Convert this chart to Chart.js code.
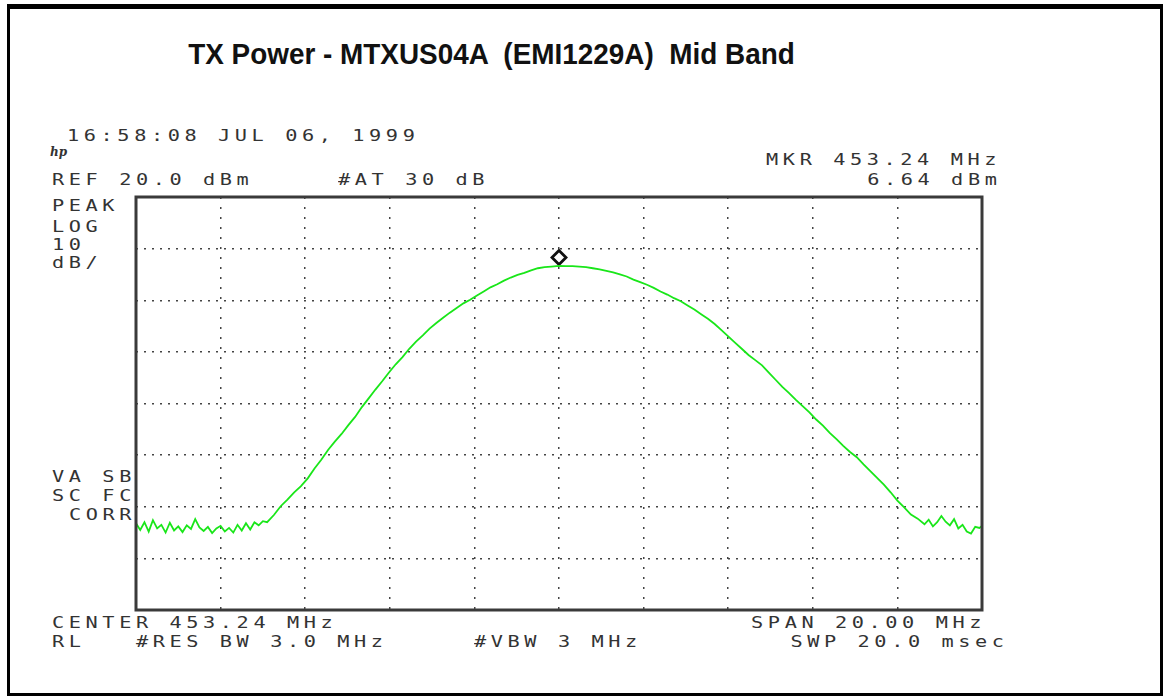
<!DOCTYPE html>
<html>
<head>
<meta charset="utf-8">
<script src="https://cdn.jsdelivr.net/npm/chart.js@4"></script>
<style>
  body { margin: 0; background: #fff; }
  .page { position: relative; width: 1167px; height: 698px; overflow: hidden; background: #fff; }
  .frame { position: absolute; left: 7px; top: 4px; width: 1156px; height: 692px; border-style: solid; border-color: #000; border-width: 5px 3px 3px 3px; box-sizing: border-box; }
  .title { position: absolute; left: 0; width: 983px; top: 37px; text-align: center; font-family: "Liberation Sans", Arial, sans-serif; font-weight: bold; font-size: 30px; color: #111; white-space: pre; transform: scaleX(0.93); transform-origin: 491px 0; }
  .t { position: absolute; font-family: "DejaVu Sans Mono", monospace; font-size: 15px; line-height: 15px; letter-spacing: 3.4px; color: #333; white-space: pre; transform: scaleX(1.35); transform-origin: 0 0; }
  .r { text-align: right; transform-origin: 100% 0; }
  .hp { position: absolute; left: 50px; top: 145px; font-family: "DejaVu Serif", serif; font-style: italic; font-weight: bold; font-size: 12px; color: #333; }
  #wrap { position: absolute; left: 126px; top: 187px; width: 866px; height: 433px; }
</style>
</head>
<body>
<div class="page">
  <div class="frame"></div>
  <div class="title">TX Power - MTXUS04A  (EMI1229A)  Mid Band</div>

  <div class="t" style="left:67px;top:129px">16:58:08 JUL 06, 1999</div>
  <div class="hp">hp</div>
  <div class="t" style="left:52px;top:173px">REF 20.0 dBm</div>
  <div class="t" style="left:338px;top:173px">#AT 30 dB</div>
  <div class="t r" style="right:166px;top:153px">MKR 453.24 MHz</div>
  <div class="t r" style="right:166px;top:173px">6.64 dBm</div>

  <div class="t" style="left:52px;top:199px">PEAK</div>
  <div class="t" style="left:52px;top:220px">LOG</div>
  <div class="t" style="left:52px;top:238px">10</div>
  <div class="t" style="left:52px;top:256px">dB/</div>

  <div class="t" style="left:52px;top:470px">VA SB</div>
  <div class="t" style="left:52px;top:489px">SC FC</div>
  <div class="t" style="left:69px;top:508px">CORR</div>

  <div class="t" style="left:52px;top:616px">CENTER 453.24 MHz</div>
  <div class="t r" style="right:181px;top:616px">SPAN 20.00 MHz</div>
  <div class="t" style="left:52px;top:635px">RL   #RES BW 3.0 MHz</div>
  <div class="t" style="left:474px;top:635px">#VBW 3 MHz</div>
  <div class="t r" style="right:158px;top:635px">SWP 20.0 msec</div>

  <div id="wrap"><canvas id="trace"></canvas></div>
</div>

<script>
// sweep: center 453.24 MHz, span 20 MHz, ref 20 dBm, 10 dB/div
var centerMHz = 453.24;
var spanMHz = 20;
var refLevel = 20;
var dbPerDiv = 10;

var freqMHz = [
  443.24, 443.34, 443.44, 443.54, 443.64, 443.74, 443.84, 443.94, 444.04, 444.14,
  444.24, 444.34, 444.44, 444.54, 444.64, 444.74, 444.84, 444.94, 445.04, 445.14,
  445.24, 445.34, 445.44, 445.54, 445.64, 445.74, 445.84, 445.94, 446.04, 446.14,
  446.24, 446.34, 446.50, 446.66, 446.82, 446.98, 447.14, 447.30, 447.46, 447.62,
  447.78, 447.94, 448.10, 448.26, 448.42, 448.58, 448.74, 448.90, 449.06, 449.22,
  449.38, 449.54, 449.70, 449.86, 450.02, 450.18, 450.34, 450.50, 450.66, 450.82,
  450.98, 451.14, 451.30, 451.46, 451.62, 451.78, 451.94, 452.10, 452.26, 452.42,
  452.58, 452.74, 452.90, 453.06, 453.24, 453.40, 453.56, 453.72, 453.88, 454.04,
  454.20, 454.36, 454.52, 454.68, 454.84, 455.00, 455.16, 455.32, 455.48, 455.64,
  455.80, 455.96, 456.12, 456.28, 456.44, 456.60, 456.76, 456.92, 457.08, 457.24,
  457.40, 457.56, 457.72, 457.88, 458.04, 458.20, 458.36, 458.52, 458.68, 458.84,
  459.00, 459.16, 459.32, 459.48, 459.64, 459.80, 459.96, 460.12, 460.28, 460.44,
  460.60, 460.76, 460.92, 461.08, 461.24, 461.40, 461.56, 461.72, 461.88, 461.98,
  462.08, 462.18, 462.28, 462.38, 462.48, 462.58, 462.68, 462.78, 462.88, 462.98,
  463.08, 463.18, 463.24
];

var powerDbm = [
  -43.2, -44.5, -43.0, -44.8, -42.6, -44.2, -43.5, -45.0, -43.1, -44.6,
  -43.8, -44.9, -43.6, -44.3, -42.4, -44.0, -44.7, -43.9, -45.1, -44.2,
  -43.7, -44.8, -44.1, -45.0, -43.5, -44.6, -43.2, -44.4, -43.0, -43.6,
  -42.8, -43.0, -41.6, -39.9, -38.6, -37.2, -36.0, -34.5, -32.6, -30.9,
  -29.0, -27.4, -25.9, -24.2, -22.6, -20.7, -19.0, -17.3, -15.7, -14.0,
  -12.4, -11.0, -9.4, -8.0, -6.8, -5.5, -4.4, -3.4, -2.4, -1.5,
  -0.6, 0.1, 0.9, 1.7, 2.5, 3.1, 3.8, 4.4, 4.9, 5.3,
  5.8, 6.2, 6.4, 6.5, 6.64, 6.6, 6.6, 6.5, 6.4, 6.2,
  6.0, 5.7, 5.4, 5.0, 4.6, 4.0, 3.5, 3.0, 2.4, 1.7,
  1.1, 0.4, -0.2, -1.0, -1.8, -2.7, -3.6, -4.6, -5.8, -7.0,
  -8.2, -9.4, -10.6, -11.6, -12.6, -14.0, -15.4, -16.8, -18.0, -19.3,
  -20.5, -21.7, -23.1, -24.3, -25.7, -26.9, -28.2, -29.4, -30.4, -31.8,
  -33.1, -34.4, -35.7, -37.2, -38.8, -40.1, -41.5, -42.3, -43.4, -42.5,
  -43.8, -43.0, -41.8, -42.9, -43.6, -42.4, -44.2, -43.5, -44.8, -45.2,
  -43.9, -44.1, -43.7
];

// marker diamond drawn just above the peak
var markerMHz = [453.24];
var markerDbm = [8.3];

function toPoints(xs, ys){
    var pts = [];
    for(var i=0;i<xs.length;i++){
        pts.push({x: xs[i], y: ys[i]});
    }
    return pts;
}

var plotBox = {
    id: 'plotBox',
    afterDraw: function(chart){
        var a = chart.chartArea;
        var ctx = chart.ctx;
        ctx.save();
        ctx.strokeStyle = '#3a3a3a';
        ctx.lineWidth = 3;
        ctx.strokeRect(a.left, a.top, a.right - a.left, a.bottom - a.top);
        ctx.restore();
    }
};

var fMin = centerMHz - spanMHz/2;
var fMax = centerMHz + spanMHz/2;

new Chart(document.querySelector('#trace'), {
    type: 'line',
    data: {
        datasets: [
            {
                data: toPoints(freqMHz, powerDbm),
                borderColor: '#19e619',
                borderWidth: 1.8,
                pointRadius: 0,
                tension: 0,
                fill: false
            },
            {
                type: 'scatter',
                data: toPoints(markerMHz, markerDbm),
                pointStyle: 'rectRot',
                pointRadius: 7,
                borderColor: '#111',
                borderWidth: 2.8,
                backgroundColor: '#fff'
            }
        ]
    },
    options: {
        responsive: true,
        maintainAspectRatio: false,
        animation: false,
        layout: { padding: 10 },
        plugins: { legend: { display: false }, tooltip: { enabled: false } },
        scales: {
            x: {
                type: 'linear',
                min: fMin,
                max: fMax,
                afterBuildTicks: function(scale){
                    var t = [];
                    for(var i=0;i<=10;i++){ t.push({value: fMin + i*spanMHz/10}); }
                    scale.ticks = t;
                },
                ticks: { display: false },
                grid: { color: '#444', lineWidth: 1.5, drawTicks: false },
                border: { display: false, dash: [2, 8] }
            },
            y: {
                type: 'linear',
                min: refLevel - 8*dbPerDiv,
                max: refLevel,
                ticks: { display: false, stepSize: dbPerDiv },
                grid: { color: '#444', lineWidth: 1.5, drawTicks: false },
                border: { display: false, dash: [2, 6] }
            }
        }
    },
    plugins: [plotBox]
});
</script>
</body>
</html>
